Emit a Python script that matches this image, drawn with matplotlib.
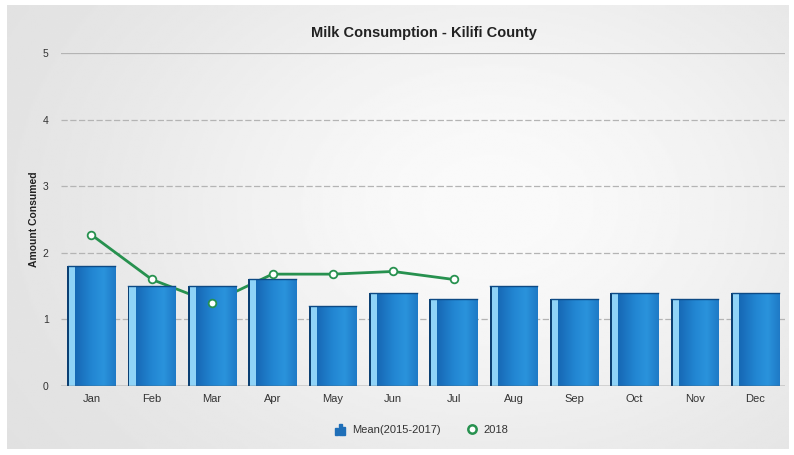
import numpy as np
import matplotlib
matplotlib.use("Agg")
import matplotlib.pyplot as plt
from matplotlib.patches import Rectangle
from matplotlib.lines import Line2D
from matplotlib.legend_handler import HandlerBase
from matplotlib.colors import LinearSegmentedColormap

months = ["Jan", "Feb", "Mar", "Apr", "May", "Jun", "Jul", "Aug", "Sep", "Oct", "Nov", "Dec"]
mean_2015_2017 = [1.8, 1.5, 1.5, 1.6, 1.2, 1.4, 1.3, 1.5, 1.3, 1.4, 1.3, 1.4]
year_2018 = [2.27, 1.6, 1.25, 1.68, 1.68, 1.72, 1.6]
y_ticks = [0, 1, 2, 3, 4, 5]

plt.rcParams["font.family"] = ["Liberation Sans", "DejaVu Sans"]

fig = plt.figure(figsize=(7.94, 4.55), dpi=100, facecolor="white")

# soft grey panel behind the chart
bg = fig.add_axes([0.009, 0.013, 0.984, 0.975], zorder=-10)
yy, xx = np.mgrid[0:1:200j, 0:1:400j]
shade = 0.87 + 0.11 * np.exp(-(((xx - 0.62) / 0.5) ** 2 + ((yy - 0.45) / 0.65) ** 2))
bg.imshow(shade, cmap="gray", vmin=0, vmax=1, aspect="auto", extent=[0, 1, 0, 1])
bg.set_axis_off()

ax = fig.add_axes([0.0772, 0.1516, 0.912, 0.7319])
ax.set_facecolor("none")
x = np.arange(len(months))
ax.set_xlim(-0.5, len(months) - 0.5)
ax.set_ylim(0, 5)

# grid
for t in y_ticks[1:]:
    ax.axhline(t, color="#b4b4b4", lw=0.9, ls=(0, (5, 2)) if t < 5 else "-", zorder=0.5)
ax.axhline(0, color="#5a5a5a", lw=1.0, zorder=4)

# bars with horizontal gradient
bw = 0.78
bars = ax.bar(x, mean_2015_2017, width=bw, color="#1f76c4", edgecolor="none", zorder=2)
grad = np.linspace(0, 1, 64)[None, :]
cmap = LinearSegmentedColormap.from_list(
    "barshade", ["#0e5ea8", "#1a70bd", "#2286d2", "#2a93dc", "#1f7ac6"])
for b in bars:
    x0, w, h = b.get_x(), b.get_width(), b.get_height()
    im = ax.imshow(grad, cmap=cmap, aspect="auto", extent=[x0, x0 + w, 0, h], zorder=2.1)
    im.set_clip_path(b)
    ax.add_patch(Rectangle((x0 - 0.01, 0), 0.03, h, color="#0b3f72", zorder=2.2, lw=0))
    ax.add_patch(Rectangle((x0 + 0.02, 0), 0.1, h, color="#8fd3f7", zorder=2.2, lw=0))
    ax.plot([x0, x0 + w], [h, h], color="#0d4a85", lw=1.0, zorder=2.3)

# 2018 line runs behind the bars, markers on top
xl = x[:len(year_2018)]
ax.plot(xl, year_2018, color="#27914f", lw=2.0, zorder=1.5)
ax.plot(xl, year_2018, ls="none", marker="o", ms=5.5, mfc="white", mec="#27914f",
        mew=1.3, zorder=3)

ax.set_xticks(x)
ax.set_xticklabels(months, fontsize=8, color="#333333")
ax.set_yticks(y_ticks)
ax.set_yticklabels([str(t) for t in y_ticks], fontsize=7.5, color="#333333")
ax.tick_params(axis="both", length=0, pad=6)
ax.tick_params(axis="y", pad=9)
for s in ax.spines.values():
    s.set_visible(False)
ax.set_ylabel("Amount Consumed", fontsize=7.5, fontweight="bold", color="#222222", labelpad=3)
fig.text(0.534, 0.928, "Milk Consumption - Kilifi County", ha="center", va="center",
         fontsize=10.5, fontweight="bold", color="#222222")


class BarIconHandler(HandlerBase):
    def create_artists(self, legend, orig, xd, yd, w, h, fontsize, trans):
        arts = []
        base = yd - h * 0.2
        for i, hh in enumerate([0.8, 1.4, 1.0]):
            r = Rectangle((xd + w * 0.15 + i * w * 0.25, base), w * 0.2, h * hh,
                          color="#1f6fb8", transform=trans)
            arts.append(r)
        return arts


bar_handle = Rectangle((0, 0), 1, 1)
line_handle = Line2D([], [], ls="none", marker="o", ms=6, mfc="white", mec="#27914f", mew=1.8)
fig.legend([bar_handle, line_handle], ["Mean(2015-2017)", "2018"],
           handler_map={Rectangle: BarIconHandler()},
           loc="center", bbox_to_anchor=(0.53, 0.055), ncol=2, frameon=False,
           fontsize=8, handlelength=1.3, handletextpad=0.4, columnspacing=2.2,
           labelcolor="#333333")

fig.savefig("out.png", dpi=100, facecolor="white")
